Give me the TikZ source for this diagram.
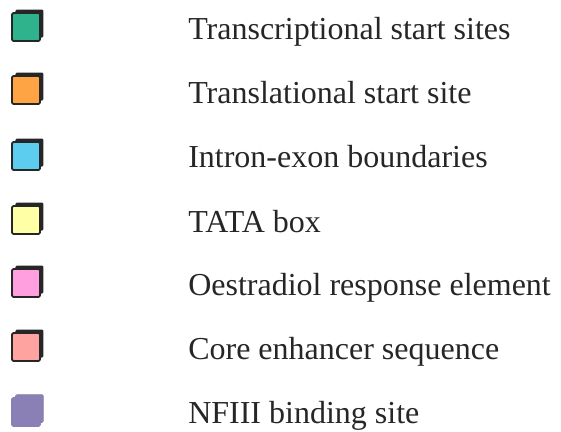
\documentclass[tikz,border=0pt]{standalone}
\usepackage{fontspec}
\setmainfont{Liberation Serif}
\usetikzlibrary{shadows}

\definecolor{tsgreen}{HTML}{2FB38C}
\definecolor{tlorange}{HTML}{FFA444}
\definecolor{iecyan}{HTML}{5CCDEE}
\definecolor{tatayellow}{HTML}{FFFFA6}
\definecolor{erepink}{HTML}{FF9FE0}
\definecolor{coresalmon}{HTML}{FFA3A0}
\definecolor{nfpurple}{HTML}{8A80B6}

\tikzset{
  keybox/.style={draw=black!85, line width=1.3pt, rounded corners=1pt,
    minimum size=21pt, inner sep=0pt,
    drop shadow={shadow xshift=2.6pt, shadow yshift=2.6pt, fill=black!85, opacity=1}},
  keytext/.style={anchor=base west, inner sep=0pt, font=\fontsize{24}{28}\selectfont, text=black!85}
}

\begin{document}
\begin{tikzpicture}[x=0.75pt, y=-0.75pt]
    \useasboundingbox (0,0) rectangle (561,432);

    \node[keybox, fill=tsgreen] (tsbox) at (26,27) {};
    \node[keybox, fill=tlorange] (tlbox) at (26,90) {};
    \node[keybox, fill=iecyan] (iebox) at (26,156) {};
    \node[keybox, fill=tatayellow] (tatabox) at (26,220) {};
    \node[keybox, fill=erepink] (erebox) at (26,283) {};
    \node[keybox, fill=coresalmon] (corebox) at (26,347) {};
    \node[keybox, draw=nfpurple, fill=nfpurple,
      drop shadow={shadow xshift=2.6pt, shadow yshift=2.6pt, fill=nfpurple, opacity=1}] (nfbox) at (26,412) {};

    \node[keytext] (ts) at (188,40) {Transcriptional start sites};
    \node[keytext] (tl) at (188,103) {Translational start site};
    \node[keytext] (ie) at (188,167) {Intron-exon boundaries};
    \node[keytext] (tata) at (188,232) {TATA box};
    \node[keytext] (ere) at (188,295) {Oestradiol response element};
    \node[keytext] (core) at (188,359) {Core enhancer sequence};
    \node[keytext] (nf) at (188,423) {NFIII binding site};
\end{tikzpicture}
\end{document}
